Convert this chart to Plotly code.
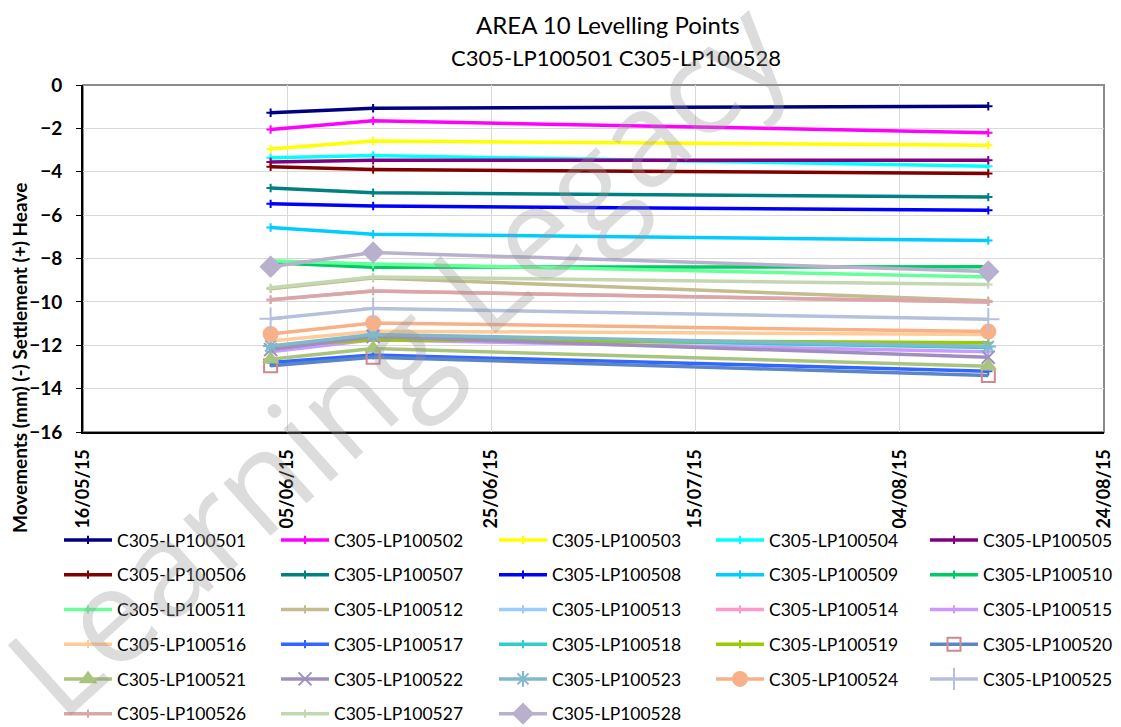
import plotly.graph_objects as go

# ---- data ----
survey_dates = ["2015-06-03 09:00", "2015-06-13 10:00", "2015-08-12 16:00"]
x_ticks = ["2015-05-16", "2015-06-05", "2015-06-25", "2015-07-15", "2015-08-04", "2015-08-24"]
y_ticks = [0, -2, -4, -6, -8, -10, -12, -14, -16]

lp100501 = [-1.28, -1.07, -0.98]
lp100502 = [-2.05, -1.65, -2.20]
lp100503 = [-2.95, -2.58, -2.78]
lp100504 = [-3.35, -3.25, -3.75]
lp100505 = [-3.55, -3.47, -3.47]
lp100506 = [-3.77, -3.90, -4.08]
lp100507 = [-4.75, -4.97, -5.17]
lp100508 = [-5.48, -5.58, -5.78]
lp100509 = [-6.57, -6.88, -7.17]
lp100510 = [-8.20, -8.40, -8.38]
lp100511 = [-8.10, -8.25, -8.85]
lp100512 = [-9.40, -8.90, -9.95]
lp100513 = [-12.10, -11.65, -12.05]
lp100514 = [-9.90, -9.50, -10.00]
lp100515 = [-12.30, -11.75, -12.30]
lp100516 = [-11.80, -11.35, -11.50]
lp100517 = [-12.80, -12.45, -13.20]
lp100518 = [-12.15, -11.60, -12.10]
lp100519 = [-12.05, -11.75, -11.88]
lp100520 = [-12.95, -12.55, -13.40]
lp100521 = [-12.65, -12.15, -12.97]
lp100522 = [-12.20, -11.60, -12.55]
lp100523 = [-12.03, -11.50, -12.06]
lp100524 = [-11.48, -10.97, -11.37]
lp100525 = [-10.78, -10.30, -10.80]
lp100526 = [-9.90, -9.50, -10.00]
lp100527 = [-9.35, -8.85, -9.20]
lp100528 = [-8.38, -7.72, -8.60]

series_names = ["C305-LP1005%02d" % i for i in range(1, 29)]
series_values = [lp100501, lp100502, lp100503, lp100504, lp100505, lp100506, lp100507,
                 lp100508, lp100509, lp100510, lp100511, lp100512, lp100513, lp100514,
                 lp100515, lp100516, lp100517, lp100518, lp100519, lp100520, lp100521,
                 lp100522, lp100523, lp100524, lp100525, lp100526, lp100527, lp100528]

# ---- styles ----
line_colors = ["#000080", "#FF00FF", "#FFFF00", "#00FFFF", "#800080", "#800000", "#008080",
               "#0000FF", "#00CCFF", "#00CC66", "#66FF99", "#C2BC8E", "#99CCFF", "#FF99CC",
               "#CC99FF", "#FFCC99", "#3366FF", "#33CCCC", "#99CC00", "#5B86C5", "#A9C47F",
               "#9F8FBF", "#80B8CC", "#F8B088", "#B4C0DC", "#D8A8A8", "#C4D7B0", "#B8B0CC"]
marker_symbols = {19: ("square-open", 13, "#D08888"), 20: ("triangle-up", 13, None),
                  21: ("x-thin-open", 13, None), 22: ("asterisk-open", 13, None),
                  23: ("circle", 14, None), 24: ("cross-thin-open", 16, None),
                  27: ("diamond", 15, None)}

# page body has an 8px default margin: work in window pixels, offset the figure
OFF = 8
W, H = 1121 - OFF, 727 - OFF
plot_top, plot_bottom, plot_left, plot_right = 85, 432, 83, 1104   # window pixels
pw, ph = plot_right - plot_left, plot_bottom - plot_top


def px_x(p):
    return (p - plot_left) / pw


def px_y(p):
    return (plot_bottom - p) / ph


fig = go.Figure()
for i, (name, vals) in enumerate(zip(series_names, series_values)):
    sym, size, mcol = marker_symbols.get(i, ("cross-thin-open", 6, None))
    col = line_colors[i]
    c = i % 5
    fig.add_trace(go.Scatter(
        x=survey_dates, y=vals, name=name, mode="lines+markers",
        line=dict(color=col, width=3.5),
        marker=dict(symbol=sym, size=size, color=mcol or col,
                    line=dict(color=mcol or col, width=2)),
        legend="legend" if c == 0 else "legend%d" % (c + 1),
        legendgroup=name,
    ))

font_family = "Lato, 'Open Sans', sans-serif"
col_text_x = [117, 334, 552, 769, 983]
legend_cols = {}
for c, tx in enumerate(col_text_x):
    key = "legend" if c == 0 else "legend%d" % (c + 1)
    legend_cols[key] = dict(
        orientation="v", x=px_x(tx - 58), xanchor="left",
        y=px_y(522), yanchor="top",
        font=dict(family=font_family, size=17.5, color="#000000"),
        bgcolor="rgba(0,0,0,0)", itemwidth=48, traceorder="grouped",
        tracegroupgap=9,
    )

fig.update_layout(
    width=W, height=H,
    margin=dict(l=plot_left - OFF, r=W - (plot_right - OFF), t=plot_top - OFF,
                b=H - (plot_bottom - OFF), autoexpand=False),
    paper_bgcolor="white", plot_bgcolor="white",
    font=dict(family=font_family, color="#000000"),
    showlegend=True,
    **legend_cols,
)

fig.update_xaxes(
    type="date", range=["2015-05-16", "2015-08-24"],
    tickvals=x_ticks, tickformat="%d/%m/%y", tickangle=-90,
    tickfont=dict(family=font_family, size=18, color="#000000", weight="bold"),
    showgrid=True, gridcolor="#D9D9D9", gridwidth=1,
    showline=True, linecolor="#000000", linewidth=2, zeroline=False,
    ticks="", ticklabelstandoff=8,
)
fig.update_yaxes(
    range=[-16, 0], tickvals=y_ticks,
    tickfont=dict(family=font_family, size=19, color="#000000", weight="bold"),
    showgrid=True, gridcolor="#D9D9D9", gridwidth=1,
    showline=True, linecolor="#000000", linewidth=2, zeroline=False,
    ticks="outside", ticklen=5, tickcolor="#000000", ticklabelstandoff=10,
)

# plot frame (top/right grey)
fig.add_shape(type="rect", xref="paper", yref="paper", x0=0, x1=1, y0=0, y1=1,
              line=dict(color="#8C8C8C", width=2), layer="below")

# titles
fig.add_annotation(text="AREA 10 Levelling Points", xref="paper", yref="paper",
                   x=px_x(608), y=px_y(24), showarrow=False, xanchor="center", yanchor="middle",
                   font=dict(family=font_family, size=24, color="#000000"))
fig.add_annotation(text="C305-LP100501 C305-LP100528", xref="paper", yref="paper",
                   x=px_x(616), y=px_y(58), showarrow=False, xanchor="center", yanchor="middle",
                   font=dict(family=font_family, size=22, color="#000000"))
fig.add_annotation(text="Movements (mm) (-) Settlement (+) Heave", xref="paper", yref="paper",
                   x=px_x(19), y=px_y(358), showarrow=False, textangle=-90,
                   xanchor="center", yanchor="middle",
                   font=dict(family=font_family, size=19, color="#000000", weight="bold"))

# watermark
fig.add_annotation(text="Learning Legacy", xref="paper", yref="paper",
                   x=px_x(395), y=px_y(355), showarrow=False, textangle=-42,
                   xanchor="center", yanchor="middle",
                   font=dict(family="'Open Sans', sans-serif", size=132, color="rgba(150,150,150,0.33)"))

fig.write_html("out.html")
